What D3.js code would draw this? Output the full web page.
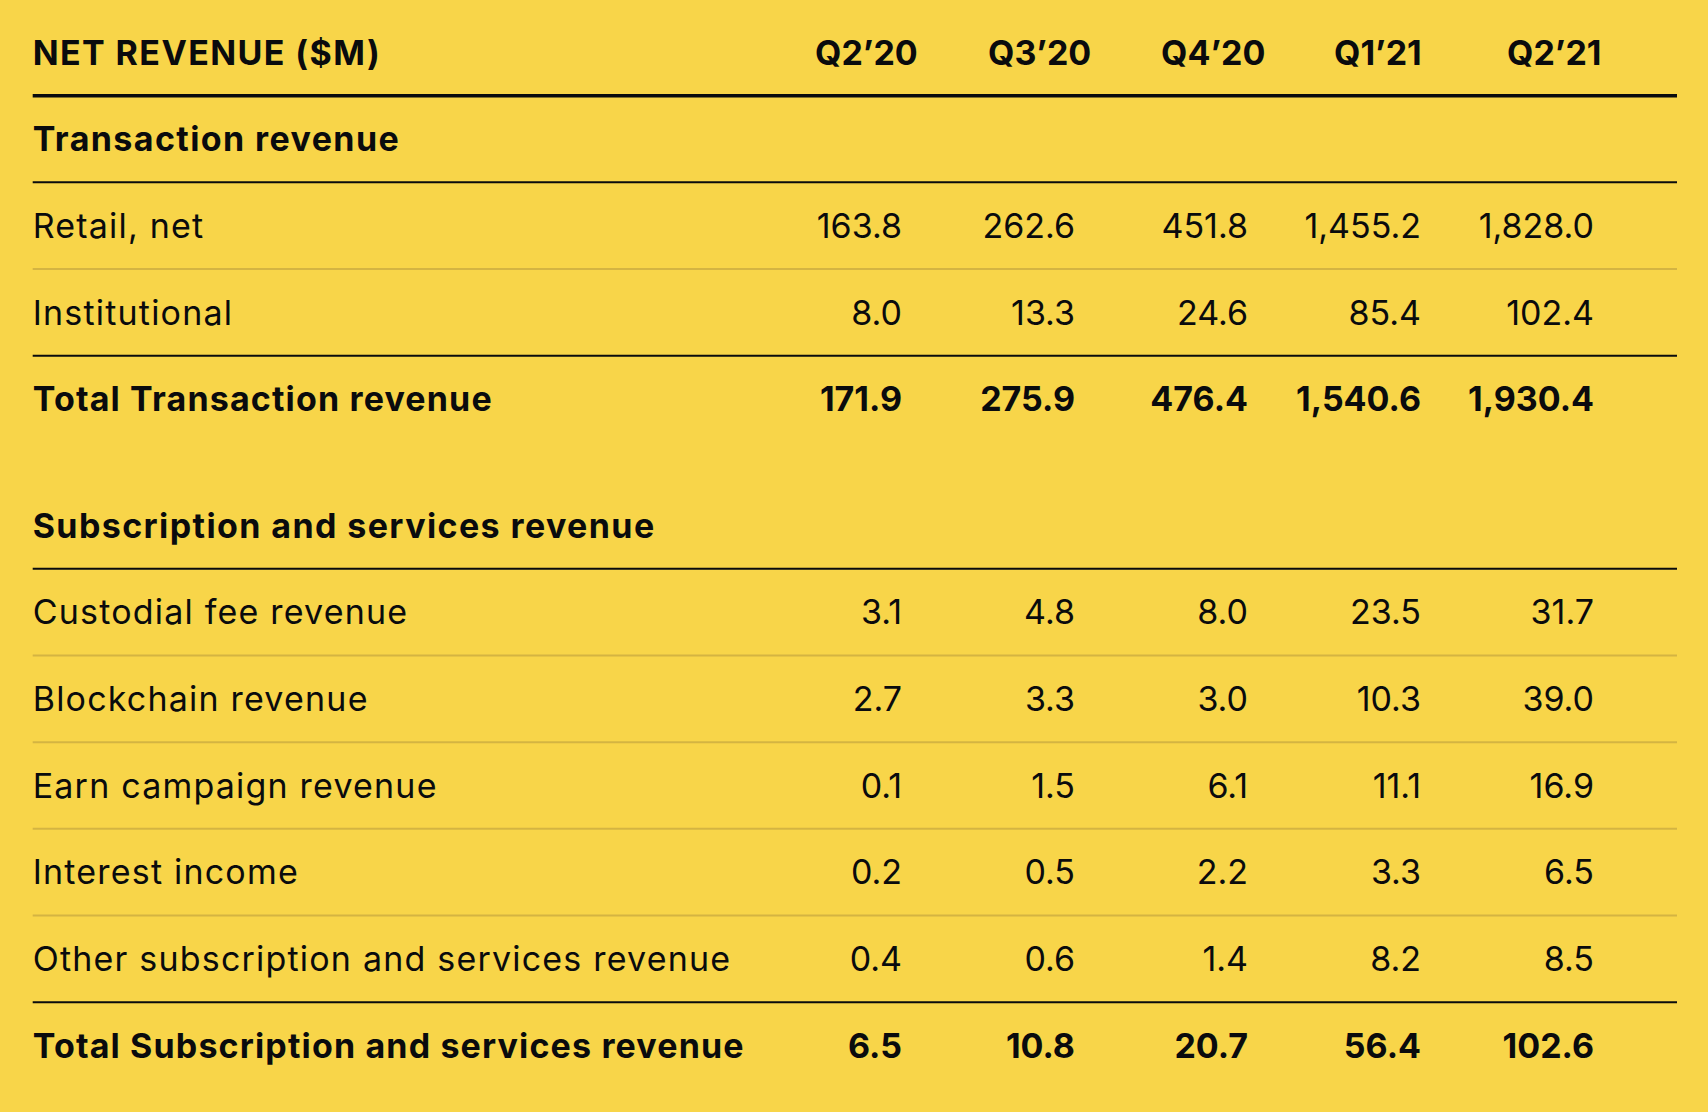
<!DOCTYPE html>
<html>
<head>
<meta charset="utf-8">
<script src="https://cdn.jsdelivr.net/npm/d3@7"></script>
<style>
  html, body { margin: 0; padding: 0; background: #f8d549; }
  svg { display: block; }
</style>
</head>
<body>
<div id="chart"></div>
<script>
// ---------------- DATA ----------------
const headerTitle = "NET REVENUE ($M)";
const quarters = ["Q2’20", "Q3’20", "Q4’20", "Q1’21", "Q2’21"];

const transactionTitle = "Transaction revenue";
const transactionLabels = ["Retail, net", "Institutional"];
const retailNet      = [163.8, 262.6, 451.8, 1455.2, 1828.0];
const institutional  = [8.0, 13.3, 24.6, 85.4, 102.4];
const transactionTotalLabel = "Total Transaction revenue";
const transactionTotal = [171.9, 275.9, 476.4, 1540.6, 1930.4];

const subscriptionTitle = "Subscription and services revenue";
const subscriptionLabels = [
  "Custodial fee revenue",
  "Blockchain revenue",
  "Earn campaign revenue",
  "Interest income",
  "Other subscription and services revenue"
];
const custodialFee   = [3.1, 4.8, 8.0, 23.5, 31.7];
const blockchain     = [2.7, 3.3, 3.0, 10.3, 39.0];
const earnCampaign   = [0.1, 1.5, 6.1, 11.1, 16.9];
const interestIncome = [0.2, 0.5, 2.2, 3.3, 6.5];
const otherSubs      = [0.4, 0.6, 1.4, 8.2, 8.5];
const subscriptionTotalLabel = "Total Subscription and services revenue";
const subscriptionTotal = [6.5, 10.8, 20.7, 56.4, 102.6];

// ---------------- LAYOUT ----------------
const W = 1708, H = 1112;
const BG = "#f8d549", INK = "#0a0b0d", SOFT = "#d4b442";
const FONT = "Inter, 'Noto Sans', 'Liberation Sans', sans-serif";
const FS = 34;

// rows: kind, label, values, slot index, rule below
const rows = [
  {kind: "header", label: headerTitle, slot: 0, rule: "thick"},
  {kind: "section", label: transactionTitle, slot: 1, rule: "black"},
  {kind: "item", label: transactionLabels[0], values: retailNet, slot: 2, rule: "soft"},
  {kind: "item", label: transactionLabels[1], values: institutional, slot: 3, rule: "black"},
  {kind: "total", label: transactionTotalLabel, values: transactionTotal, slot: 4, rule: null},
  {kind: "section", label: subscriptionTitle, slot: 5.457, rule: "black"},
  {kind: "item", label: subscriptionLabels[0], values: custodialFee, slot: 6.457, rule: "soft"},
  {kind: "item", label: subscriptionLabels[1], values: blockchain, slot: 7.457, rule: "soft"},
  {kind: "item", label: subscriptionLabels[2], values: earnCampaign, slot: 8.457, rule: "soft"},
  {kind: "item", label: subscriptionLabels[3], values: interestIncome, slot: 9.457, rule: "soft"},
  {kind: "item", label: subscriptionLabels[4], values: otherSubs, slot: 10.457, rule: "black"},
  {kind: "total", label: subscriptionTotalLabel, values: subscriptionTotal, slot: 11.457, rule: null}
];

const y = d3.scaleLinear().domain([0, 1]).range([52.3, 139.0]);
const xCol = d3.scaleLinear().domain([0, 1]).range([815, 988]); // left of header column
const valueOffset = 87; // values right-aligned
const xLeft = 32.7, xRight = 1677;
const fmt = d3.format(",.1f");

const svg = d3.select("#chart").append("svg")
  .attr("width", W).attr("height", H)
  .attr("viewBox", `0 0 ${W} ${H}`);

svg.append("rect").attr("width", W).attr("height", H).attr("fill", BG);

const baseline = s => y(s) + 0.36 * FS;

// rules
const ruleStyle = {
  thick: {stroke: INK, width: 3.5},
  black: {stroke: INK, width: 2},
  soft:  {stroke: SOFT, width: 2}
};
svg.append("g").selectAll("line")
  .data(rows.filter(r => r.rule))
  .join("line")
  .attr("x1", xLeft).attr("x2", xRight)
  .attr("y1", r => y(r.slot + 0.5)).attr("y2", r => y(r.slot + 0.5))
  .attr("stroke", r => ruleStyle[r.rule].stroke)
  .attr("stroke-width", r => ruleStyle[r.rule].width);

// labels
svg.append("g").selectAll("text")
  .data(rows)
  .join("text")
  .attr("x", xLeft)
  .attr("y", r => baseline(r.slot))
  .attr("font-family", FONT)
  .attr("font-size", FS)
  .attr("font-weight", r => r.kind === "item" ? 400 : 700)
  .attr("letter-spacing", r => r.kind === "item" ? 1.2 : (r.kind === "total" ? 1.15 : 1.4))
  .attr("fill", INK)
  .text(r => r.label);

// quarter headers
svg.append("g").selectAll("text")
  .data(quarters)
  .join("text")
  .attr("x", (q, i) => xCol(i))
  .attr("y", baseline(0))
  .attr("font-family", FONT)
  .attr("font-size", FS)
  .attr("font-weight", 700)
  .attr("fill", INK)
  .text(q => q);

// values
const cells = [];
rows.filter(r => r.values).forEach(r => {
  r.values.forEach((v, i) => cells.push({v, i, slot: r.slot, bold: r.kind === "total"}));
});
svg.append("g").selectAll("text")
  .data(cells)
  .join("text")
  .attr("x", d => xCol(d.i) + valueOffset)
  .attr("y", d => baseline(d.slot))
  .attr("text-anchor", "end")
  .attr("font-family", FONT)
  .attr("font-size", FS)
  .attr("font-weight", d => d.bold ? 700 : 400)
  .attr("fill", INK)
  .text(d => fmt(d.v));
</script>
</body>
</html>
